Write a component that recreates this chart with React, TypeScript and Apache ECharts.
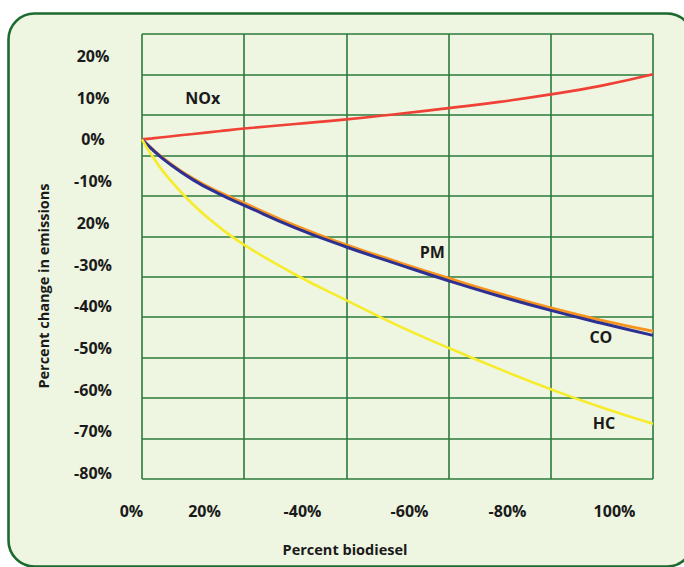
import React, { useEffect, useRef } from 'react';
import * as echarts from 'echarts';

// ---- data ----
const biodieselPct = [0, 2, 5, 10, 15, 20, 30, 40, 50, 60, 70, 80, 90, 100];
const noxChange = [0, 0.25, 0.65, 1.3, 1.95, 2.6, 3.7, 4.8, 6.1, 7.5, 9.0, 10.8, 12.9, 15.6];
const pmChange = [0, -2.3, -5.3, -9.4, -12.6, -15.3, -20.7, -25.3, -29.4, -33.3, -37.0, -40.4, -43.4, -46.0];
const coChange = [0, -2.4, -5.5, -9.7, -13.0, -15.8, -21.2, -25.8, -29.9, -33.9, -37.6, -41.0, -44.1, -47.0];
const hcChange = [0, -4.0, -9.0, -15.6, -20.9, -25.3, -32.4, -38.6, -44.6, -50.0, -55.1, -59.9, -64.3, -68.2];

const seriesNames = ['NOx', 'PM', 'CO', 'HC'];
const annotationX = [11.9, 56.8, 89.8, 90.4];
const annotationY = [9.9, -27.0, -47.4, -68.0];

const yTickLabels = ['-80%', '-70%', '-60%', '-50%', '-40%', '-30%', '20%', '-10%', '0%', '10%', '20%'];
const xTickLabels = ['0%', '20%', '-40%', '-60%', '-80%', '100%'];

const xAxisTitle = 'Percent biodiesel';
const yAxisTitle = 'Percent change in emissions';

// ---- styles ----
const FONT = '"Open Sans", "Noto Sans", sans-serif';
const TEXT = '#1a1a1a';
const GRID_GREEN = '#2a7a3c';
const BORDER_GREEN = '#1c6a2e';
const BG = '#eef5e0';
const xLabelShift = [15, -10, -10, -1, -1, 8];

export default function App() {
  const ref = useRef<HTMLDivElement>(null);

  useEffect(() => {
    if (!ref.current) return;
    const chart = echarts.init(ref.current, undefined, { renderer: 'svg' });

    const rich: Record<string, any> = {};
    xLabelShift.forEach((s, i) => {
      rich['s' + i] = {
        fontFamily: FONT,
        fontWeight: 'bold',
        fontSize: 16,
        color: TEXT,
        padding: [0, s < 0 ? -2 * s : 0, 0, s > 0 ? 2 * s : 0],
      };
    });

    const mk = (name: string, values: number[], color: string, width: number, idx: number) => ({
      name,
      type: 'line',
      xAxisIndex: 1,
      yAxisIndex: 1,
      data: biodieselPct.map((x, i) => [x, values[i]]),
      smooth: 0.5,
      showSymbol: false,
      symbol: 'none',
      lineStyle: { color, width },
      z: 3 + idx,
      markPoint: {
        symbol: 'circle',
        symbolSize: 1,
        itemStyle: { color: 'rgba(0,0,0,0)' },
        label: {
          show: true,
          position: 'inside',
          formatter: name,
          color: TEXT,
          fontFamily: FONT,
          fontWeight: 'bold',
          fontSize: 16,
        },
        data: [{ coord: [annotationX[idx], annotationY[idx]] }],
      },
    });

    chart.setOption({
      animation: false,
      backgroundColor: '#ffffff',
      graphic: [
        {
          type: 'rect',
          z: -10,
          shape: { x: 8.5, y: 13.5, width: 684.5, height: 553, r: 26 },
          style: { fill: BG, stroke: BORDER_GREEN, lineWidth: 2.6 },
        },
        {
          type: 'text',
          x: 345,
          y: 549,
          style: {
            text: xAxisTitle,
            fill: TEXT,
            font: `bold 14.5px ${FONT}`,
            align: 'center',
            verticalAlign: 'middle',
          },
        },
        {
          type: 'text',
          x: 43,
          y: 286,
          rotation: Math.PI / 2,
          style: {
            text: yAxisTitle,
            fill: TEXT,
            font: `bold 14.5px ${FONT}`,
            align: 'center',
            verticalAlign: 'middle',
          },
        },
      ],
      grid: [
        { left: 142, right: 31, top: 34, bottom: 88 },
        { left: 142, right: 31, top: 56, bottom: 94 },
        { left: 116.5, right: 77.5, top: 34, bottom: 88 },
      ],
      xAxis: [
        {
          gridIndex: 0,
          type: 'value',
          min: 0,
          max: 100,
          interval: 20,
          axisLine: { show: false },
          axisTick: { show: false },
          axisLabel: { show: false },
          splitLine: { show: true, lineStyle: { color: GRID_GREEN, width: 1.6 } },
        },
        {
          gridIndex: 1,
          type: 'value',
          min: 0,
          max: 100,
          show: false,
        },
        {
          gridIndex: 2,
          type: 'value',
          min: 0,
          max: 100,
          interval: 20,
          axisLine: { show: false },
          axisTick: { show: false },
          splitLine: { show: false },
          axisLabel: {
            show: true,
            margin: 24,
            formatter: (v: number) => {
              const i = Math.round(v / 20);
              return `{s${i}|${xTickLabels[i]}}`;
            },
            rich,
          },
        },
      ],
      yAxis: [
        {
          gridIndex: 0,
          type: 'value',
          min: 0,
          max: 11,
          interval: 1,
          axisLine: { show: false },
          axisTick: { show: false },
          axisLabel: { show: false },
          splitLine: { show: true, lineStyle: { color: GRID_GREEN, width: 1.6 } },
        },
        {
          gridIndex: 1,
          type: 'value',
          min: -80,
          max: 20,
          interval: 10,
          axisLine: { show: false },
          axisTick: { show: false },
          splitLine: { show: false },
          axisLabel: {
            show: true,
            margin: 49,
            align: 'center',
            color: TEXT,
            fontFamily: FONT,
            fontWeight: 'bold',
            fontSize: 16,
            formatter: (v: number) => yTickLabels[Math.round((v + 80) / 10)],
          },
        },
        {
          gridIndex: 2,
          type: 'value',
          min: 0,
          max: 1,
          show: false,
        },
      ],
      series: [
        mk(seriesNames[0], noxChange, '#ef4136', 2.6, 0),
        mk(seriesNames[2], coChange, '#2e3192', 3, 2),
        mk(seriesNames[1], pmChange, '#f7941d', 3, 1),
        mk(seriesNames[3], hcChange, '#f7ec2a', 2.6, 3),
      ],
    });

    return () => chart.dispose();
  }, []);

  return (
    <div
      ref={ref}
      style={{ position: 'fixed', left: 0, top: 0, width: 684, height: 567 }}
    />
  );
}
